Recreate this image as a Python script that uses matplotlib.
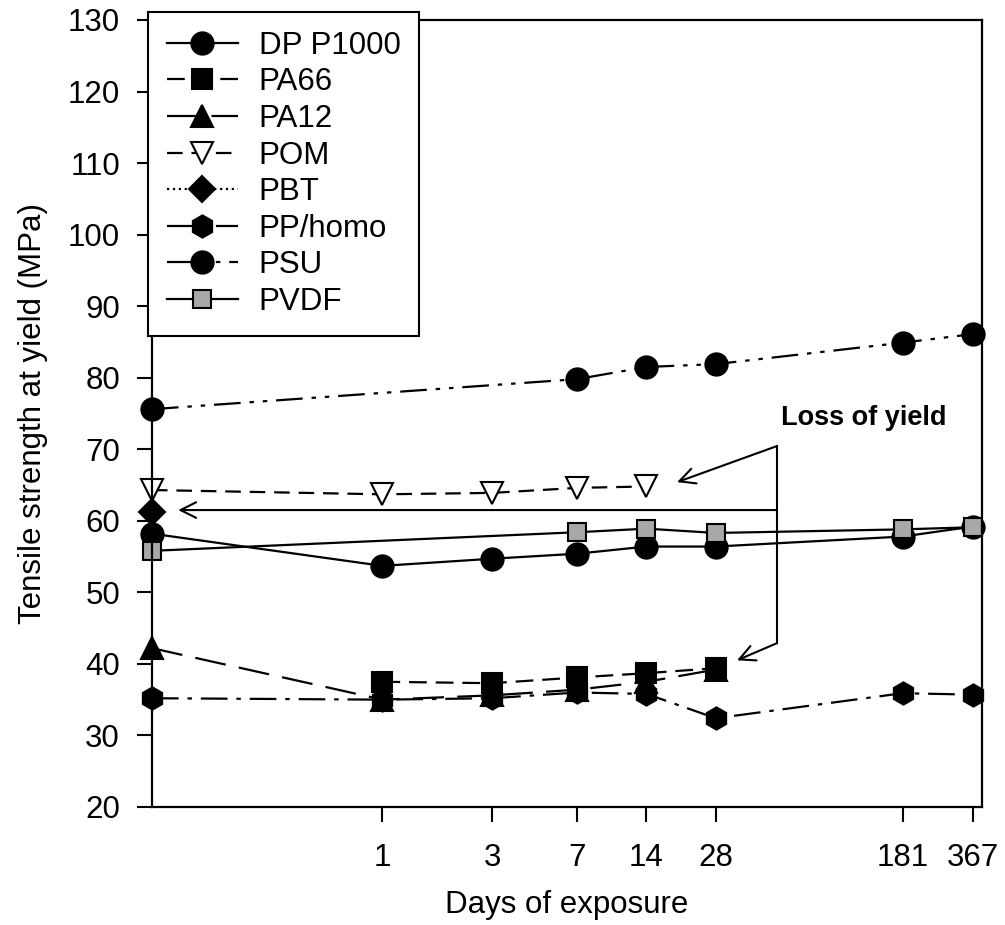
import matplotlib
matplotlib.use("Agg")
import matplotlib.pyplot as plt
import numpy as np

plt.rcParams["font.family"] = ["Liberation Sans", "DejaVu Sans"]

# day 0 is drawn at 0.1 on the log axis (left spine), as in the original figure
days = [0.1, 1, 3, 7, 14, 28, 181, 367]
tick_days = [1, 3, 7, 14, 28, 181, 367]
nan = np.nan

dp_p1000 = [58.2, 53.7, 54.7, 55.4, 56.4, 56.4, 57.8, 59.2]
pa66 = [nan, 37.5, 37.3, 38.1, 38.7, 39.4, nan, nan]
pa12 = [42.2, 35.0, 35.6, 36.4, 37.5, 39.2, nan, nan]
pom = [64.3, 63.7, 63.9, 64.6, 64.8, nan, nan, nan]
pbt = [61.2, nan, nan, nan, nan, nan, nan, nan]
pp_homo = [35.2, 35.0, 35.2, 36.0, 35.8, 32.4, 35.9, 35.7]
psu = [75.6, nan, nan, 79.8, 81.5, 81.9, 84.9, 86.1]
pvdf = [55.8, nan, nan, 58.4, 58.9, 58.3, 58.8, 59.1]

series = [
    ("DP P1000", dp_p1000, "o", 16, "black", "-"),
    ("PA66", pa66, "s", 14, "black", (0, (8, 4))),
    ("PA12", pa12, "^", 16, "black", (0, (14, 6))),
    ("POM", pom, "v", 16, "white", (0, (7, 4))),
    ("PBT", pbt, "D", 13, "black", ":"),
    ("PP/homo", pp_homo, "h", 16, "black", (0, (12, 4, 2, 4))),
    ("PSU", psu, "o", 16, "black", (0, (12, 4, 2, 4, 2, 4))),
    ("PVDF", pvdf, "s", 13, "#a8a8a8", "-"),
]

fig = plt.figure(figsize=(10.05, 9.25), dpi=100)
ax = fig.add_axes([0.1512, 0.1276, 0.8259, 0.8508])

x = np.array(days)
for name, vals, mk, ms, fc, ls in series:
    y = np.array(vals, dtype=float)
    ok = ~np.isnan(y)
    ax.plot(x[ok], y[ok], color="black", lw=1.6, linestyle=ls, marker=mk,
            markersize=ms, markerfacecolor=fc, markeredgecolor="black",
            markeredgewidth=1.5, clip_on=False, label=name)

ax.set_xscale("log")
ax.set_xlim(0.1, 400)
ax.set_ylim(20, 130)
ax.set_xticks(tick_days)
ax.set_xticklabels([str(d) for d in tick_days])
ax.xaxis.set_minor_locator(matplotlib.ticker.NullLocator())
ax.set_yticks(np.arange(20, 131, 10))

ax.tick_params(axis="both", direction="out", length=11, width=1.5,
               labelsize=22.5)
ax.tick_params(axis="x", pad=15)
ax.tick_params(axis="y", pad=12)
for sp in ax.spines.values():
    sp.set_linewidth(1.6)

ax.set_xlabel("Days of exposure", fontsize=22.5, labelpad=12)
ax.set_ylabel("Tensile strength at yield (MPa)", fontsize=22.5, labelpad=14)

# "Loss of yield" bracket and arrows
bx = 51.6
ax.plot([bx, bx], [70.45, 42.9], color="black", lw=1.5)
arrow = dict(arrowstyle="->", lw=1.5, color="black", mutation_scale=28,
             shrinkA=0, shrinkB=0)
ax.annotate("", xy=(19.0, 65.4), xytext=(bx, 70.45), arrowprops=arrow)
ax.annotate("", xy=(0.13, 61.5), xytext=(bx, 61.5), arrowprops=arrow)
ax.annotate("", xy=(34.6, 40.5), xytext=(bx, 42.9), arrowprops=arrow)
ax.text(123, 74.4, "Loss of yield", fontsize=19.5, fontweight="bold",
        ha="center", va="center")

leg = ax.legend(loc="upper left", bbox_to_anchor=(-0.005, 1.01),
                borderaxespad=0, fontsize=22.5, numpoints=1, handlelength=2.3,
                handletextpad=0.65, labelspacing=0.21, fancybox=False,
                framealpha=1, edgecolor="black", borderpad=0.6)
leg.get_frame().set_linewidth(1.5)

fig.savefig("out.png", dpi=100)
